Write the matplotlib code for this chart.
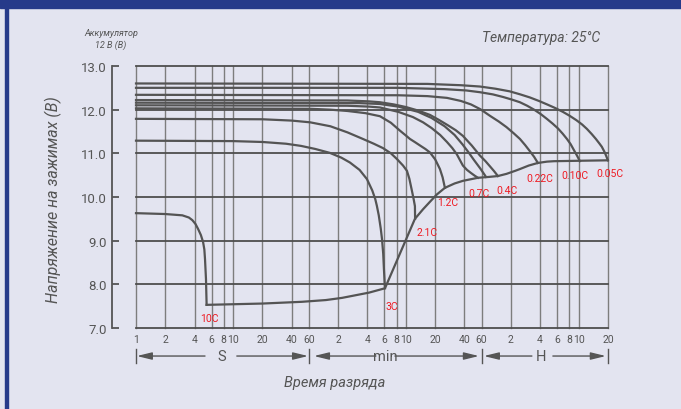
import matplotlib.pyplot as plt
from matplotlib.patches import Rectangle
from matplotlib.ticker import NullLocator

plt.rcParams['font.family'] = ['Roboto', 'DejaVu Sans']

BG = '#e3e4f0'
BLUE = '#263a8a'
GRAY = '#555555'
RED = '#ee1c24'

# time in seconds, voltage in volts
t_005 = [1, 1000, 2200, 3460, 5000, 7000, 9000, 11300, 14000, 17000, 20500, 24700, 29000,
         34000, 39000, 43650, 49000, 54000, 58500, 62200, 66000, 69000, 71800]
v_005 = [12.60, 12.59, 12.56, 12.53, 12.48, 12.42, 12.35, 12.28, 12.20, 12.12, 12.04, 11.95, 11.86,
         11.76, 11.66, 11.56, 11.44, 11.33, 11.23, 11.15, 11.04, 10.94, 10.84]
t_010 = [1, 500, 1500, 2500, 3460, 4700, 6000, 7400, 8930, 10600, 12500, 14600, 16900, 19400,
         22000, 24600, 27200, 29700, 32000, 34500, 37000]
v_010 = [12.50, 12.50, 12.47, 12.44, 12.40, 12.35, 12.29, 12.23, 12.17, 12.09, 12.0, 11.90, 11.79, 11.68,
         11.57, 11.45, 11.33, 11.21, 11.08, 10.95, 10.82]
t_022 = [1, 500, 1000, 1585, 2200, 2800, 3500, 4385, 5400, 6500, 7700, 8930, 10100, 11300, 12500, 13670]
v_022 = [12.34, 12.33, 12.31, 12.27, 12.20, 12.12, 12.01, 11.86, 11.73, 11.60, 11.46, 11.33, 11.19,
         11.05, 10.92, 10.78]
t_04 = [1, 150, 250, 324, 450, 600, 800, 1059, 1300, 1600, 1950, 2312, 2850, 3460, 3950, 4400, 4850, 5300]
v_04 = [12.22, 12.21, 12.19, 12.17, 12.12, 12.06, 11.98, 11.88, 11.77, 11.65, 11.53, 11.40, 11.18,
        10.95, 10.82, 10.70, 10.59, 10.48]
t_x = [1, 200, 324, 500, 800, 1100, 1500, 1900, 2300, 2650, 3000, 3500, 4000]
v_x = [12.16, 12.15, 12.13, 12.07, 11.95, 11.81, 11.62, 11.42, 11.20, 11.02, 10.85, 10.65, 10.46]
t_07 = [1, 150, 250, 324, 500, 708, 900, 1100, 1350, 1585, 1800, 2000, 2150, 2312, 2550, 2800, 3050, 3300]
v_07 = [12.10, 12.09, 12.07, 12.05, 11.95, 11.83, 11.71, 11.58, 11.42, 11.26, 11.12, 10.98, 10.85,
        10.72, 10.62, 10.55, 10.49, 10.44]
t_12 = [1, 62, 100, 150, 230, 324, 420, 520, 590, 659, 750, 850, 950, 1059, 1200, 1342, 1430, 1510]
v_12 = [12.03, 12.02, 12.00, 11.97, 11.92, 11.85, 11.70, 11.52, 11.42, 11.33, 11.25, 11.17, 11.10,
        11.02, 10.86, 10.64, 10.45, 10.21]
t_21 = [1, 20, 40, 62, 100, 150, 216, 280, 348, 420, 484, 560, 614, 650, 690, 720, 742, 745]
v_21 = [11.79, 11.78, 11.75, 11.71, 11.62, 11.48, 11.33, 11.22, 11.12, 11.0, 10.87, 10.72, 10.60,
        10.42, 10.15, 9.95, 9.79, 9.50]
t_3 = [1, 10, 20, 35, 50, 70, 99, 130, 159, 200, 238, 270, 290, 301, 315, 330, 340, 350, 356, 362, 365]
v_3 = [11.29, 11.28, 11.26, 11.22, 11.17, 11.10, 11.01, 10.90, 10.79, 10.62, 10.41, 10.15, 9.95,
       9.80, 9.58, 9.28, 9.04, 8.70, 8.35, 8.05, 7.91]
t_10 = [1, 2, 3, 3.5, 3.8, 4.1, 4.35, 4.65, 4.9, 5.05, 5.13, 5.25, 5.33]
v_10 = [9.63, 9.61, 9.58, 9.53, 9.47, 9.38, 9.27, 9.13, 8.97, 8.80, 8.58, 8.12, 7.53]
t_end = [5.33, 20, 51, 90, 132, 250, 365, 742, 900, 1059, 1250, 1510, 1900, 2312, 3300, 4300, 5300,
         6500, 8000, 8930, 11000, 13670, 17000, 20000, 37000, 71800]
v_end = [7.53, 7.56, 7.60, 7.64, 7.69, 7.81, 7.91, 9.50, 9.72, 9.89, 10.06, 10.21, 10.31, 10.37, 10.44,
         10.46, 10.48, 10.53, 10.60, 10.64, 10.72, 10.78, 10.81, 10.82, 10.83, 10.84]

rate_labels = ['10C', '3C', '2.1C', '1.2C', '0.7C', '0.4C', '0.22C', '0.10C', '0.05C']
label_t = [5.64, 430, 986, 1622, 3380, 6560, 14330, 32860, 75300]
label_v = [7.23, 7.50, 9.20, 9.89, 10.09, 10.16, 10.44, 10.50, 10.55]

x_ticks = [1, 2, 4, 6, 8, 10, 20, 40, 60, 120, 240, 360, 480, 600, 1200, 2400, 3600,
           7200, 14400, 21600, 28800, 36000, 72000]
x_labels = ['1', '2', '4', '6', '8', '10', '20', '40', '60', '2', '4', '6', '8', '10', '20', '40', '60',
            '2', '4', '6', '8', '10', '20']
y_ticks = [7, 8, 9, 10, 11, 12, 13]

fig = plt.figure(figsize=(6.81, 4.10), dpi=100, facecolor=BG)
fig.patches.append(Rectangle((0, 1 - 9 / 410), 1, 9 / 410, transform=fig.transFigure, color=BLUE))
fig.patches.append(Rectangle((5 / 681, 0), 3 / 681, 1, transform=fig.transFigure, color=BLUE))

ax = fig.add_axes([136 / 681, 1 - 329 / 410, 472 / 681, 262 / 410])
ax.set_facecolor(BG)
ax.set_xscale('log')
ax.set_xlim(1, 72000)
ax.set_ylim(7, 13)

for t in x_ticks:
    ax.axvline(t, color='#7d7d7d', lw=1.0, zorder=1, clip_on=False)
for v in y_ticks:
    ax.axhline(v, color='#4e4e4e', lw=1.3, zorder=1, clip_on=False)

curves = [(t_005, v_005), (t_010, v_010), (t_022, v_022), (t_04, v_04), (t_x, v_x),
          (t_07, v_07), (t_12, v_12), (t_21, v_21), (t_3, v_3), (t_10, v_10), (t_end, v_end)]
for t, v in curves:
    ax.plot(t, v, color='#545454', lw=1.6, zorder=3, solid_joinstyle='round', clip_on=False)

for lab, t, v in zip(rate_labels, label_t, label_v):
    ax.text(t, v, lab, color=RED, fontsize=7.5, ha='center', va='center', zorder=4)

for s in ['top', 'right', 'bottom']:
    ax.spines[s].set_visible(False)
ax.spines['left'].set_position(('outward', 17))
ax.spines['left'].set_bounds(7, 13)
ax.spines['left'].set_color(GRAY)
ax.spines['left'].set_linewidth(1.3)

ax.set_yticks(y_ticks, [f'{v:.1f}' for v in y_ticks])
ax.tick_params(axis='y', direction='in', length=5, width=1.3, color=GRAY,
               labelsize=9.5, labelcolor=GRAY, pad=4)
ax.set_xticks(x_ticks, x_labels)
ax.xaxis.set_minor_locator(NullLocator())
ax.tick_params(axis='x', length=0, labelsize=7.5, labelcolor=GRAY, pad=4)

# unit bands under the axis
trans = ax.get_xaxis_transform()
row = -0.107
for t in [1, 60, 3600, 72000]:
    ax.plot([t, t], [-0.08, -0.135], color=GRAY, lw=1.0, transform=trans, clip_on=False)
arrow_style = dict(arrowstyle='-|>,head_length=0.9,head_width=0.22', color=GRAY, lw=1.0,
                   mutation_scale=10, shrinkA=0, shrinkB=0)
segments = [('S', 7.67, 1.02, 5.13, 10.9, 59),
            ('min', 365, 67.8, 294, 462, 3380),
            ('H', 14680, 3800, 11860, 19500, 68400)]
for name, tc, head_l, tail_l, tail_r, head_r in segments:
    ax.annotate('', xy=(head_l, row), xytext=(tail_l, row), xycoords=trans,
                textcoords=trans, arrowprops=arrow_style, annotation_clip=False)
    ax.annotate('', xy=(head_r, row), xytext=(tail_r, row), xycoords=trans,
                textcoords=trans, arrowprops=arrow_style, annotation_clip=False)
    ax.text(tc, row, name, transform=trans, ha='center', va='center',
            fontsize=10.5, color=GRAY)

fig.text(335 / 681, 1 - 383 / 410, 'Время разряда', ha='center', va='center',
         fontsize=10.5, style='italic', color=GRAY)
fig.text(53 / 681, 1 - 200 / 410, 'Напряжение на зажимах (В)', ha='center', va='center',
         rotation=90, fontsize=11.5, style='italic', color=GRAY)
fig.text(111 / 681, 1 - 33 / 410, 'Аккумулятор', ha='center', va='center',
         fontsize=6.5, style='italic', color=GRAY)
fig.text(111 / 681, 1 - 45 / 410, '12 В (В)', ha='center', va='center',
         fontsize=6.5, style='italic', color=GRAY)
fig.text(541 / 681, 1 - 38 / 410, 'Температура: 25°C', ha='center', va='center',
         fontsize=10, style='italic', color=GRAY)

fig.savefig('out.png', dpi=100, facecolor=BG)
